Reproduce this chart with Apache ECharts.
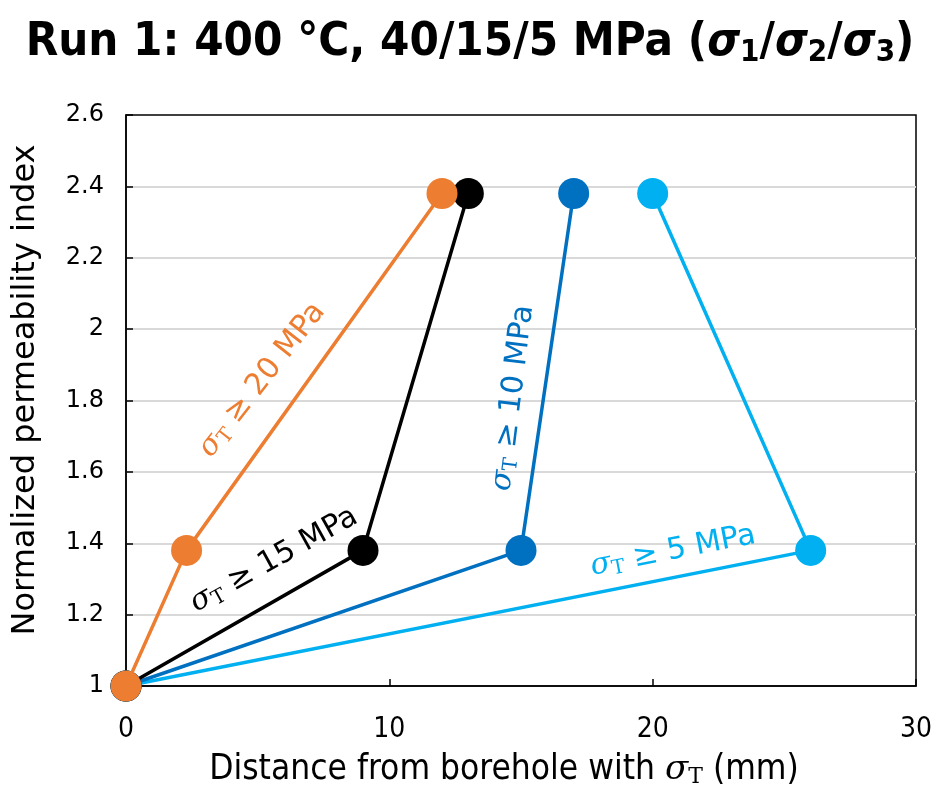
<!DOCTYPE html>
<html><head><meta charset="utf-8">
<script src="https://cdn.jsdelivr.net/npm/echarts@6/dist/echarts.min.js"></script>
<style>html,body{margin:0;padding:0;background:#fff}#c{width:944px;height:791px}</style>
</head><body><div id="c"></div>
<script>
// ---- data ----
const labels = ['σT ≥ 5 MPa', 'σT ≥ 10 MPa', 'σT ≥ 15 MPa', 'σT ≥ 20 MPa'];
const dist5  = [0, 26, 20];
const perm5  = [1, 1.38, 2.38];
const dist10 = [0, 15, 17];
const perm10 = [1, 1.38, 2.38];
const dist15 = [0, 9, 13];
const perm15 = [1, 1.38, 2.38];
const dist20 = [0, 2.3, 12];
const perm20 = [1, 1.38, 2.38];
const xTicks = [0, 10, 20, 30];
const yTicks = [1, 1.2, 1.4, 1.6, 1.8, 2, 2.2, 2.4, 2.6];

function hasFont(name){
  const c = document.createElement('canvas').getContext('2d');
  const s = 'abcdefghijklmnopqrstuvwxyz0123456789';
  c.font = '40px monospace'; const w0 = c.measureText(s).width;
  c.font = "40px '" + name + "', monospace"; const w1 = c.measureText(s).width;
  return w0 !== w1;
}
const WIDE = 'DejaVu Sans';
const NARROW = hasFont('DejaVu Sans Condensed') ? 'DejaVu Sans Condensed' : 'DejaVu Sans';

const colors = ['#00B0F0', '#0070C0', '#000000', '#ED7D31'];
const seriesData = [
  [dist5, perm5], [dist10, perm10], [dist15, perm15], [dist20, perm20]
];

const chart = echarts.init(document.getElementById('c'), null, {renderer: 'canvas'});

function zipPts(xs, ys){ return xs.map((x, i) => [x, ys[i]]); }

function annot(text, color, x, y, deg){
  const m = text.match(/^σT(.*)$/);
  return {
    type: 'text', x: x, y: y, rotation: deg * Math.PI / 180, z: 100,
    style: {
      text: '{s|σ}{t|T}{a|' + m[1] + '}',
      align: 'center', verticalAlign: 'middle',
      rich: {
        s: {fontFamily: 'DejaVu Serif', fontStyle: 'italic', fontSize: 30, fill: color},
        t: {fontFamily: 'DejaVu Serif', fontSize: 20, fill: color, padding: [13, 0, 0, 0]},
        a: {fontFamily: WIDE, fontSize: 30, fill: color}
      }
    }
  };
}

const option = {
  animation: false,
  grid: {left: 126, right: 28, top: 115, bottom: 105, show: true, borderColor: '#000', borderWidth: 1.5, backgroundColor: 'transparent'},
  xAxis: {
    type: 'value', min: xTicks[0], max: xTicks[xTicks.length - 1], interval: 10,
    axisLine: {show: true, lineStyle: {color: '#000', width: 1.5}},
    axisTick: {show: true, inside: true, length: 7, lineStyle: {color: '#000', width: 1.5}},
    axisLabel: {fontFamily: NARROW, fontSize: 28, color: '#000', margin: 30},
    splitLine: {show: false}
  },
  yAxis: {
    type: 'value', min: yTicks[0], max: yTicks[yTicks.length - 1], interval: 0.2,
    axisLine: {show: true, lineStyle: {color: '#000', width: 1.5}},
    axisTick: {show: true, inside: true, length: 7, lineStyle: {color: '#000', width: 1.5}},
    axisLabel: {fontFamily: WIDE, fontSize: 24, color: '#000', margin: 22,
      formatter: v => String(Math.round(v * 10) / 10)},
    splitLine: {show: true, showMinLine: false, showMaxLine: false, lineStyle: {color: '#D9D9D9', width: 2}}
  },
  series: seriesData.map((d, i) => ({
    name: labels[i], type: 'line', data: zipPts(d[0], d[1]),
    symbol: 'circle', symbolSize: 31, clip: false,
    lineStyle: {color: colors[i], width: 3.5},
    itemStyle: {color: colors[i]},
    z: 2 + i
  })),
  graphic: [
    {
      type: 'text', x: 470, y: 43, z: 100,
      style: {
        text: '{a|Run 1: 400 °C, 40/15/5 MPa (}{s|σ}{b|1}{a|/}{s|σ}{b|2}{a|/}{s|σ}{b|3}{a|)}',
        align: 'center', verticalAlign: 'middle',
        rich: {
          a: {fontFamily: NARROW, fontWeight: 'bold', fontSize: 47, fill: '#000'},
          s: {fontFamily: NARROW, fontWeight: 'bold', fontStyle: 'italic', fontSize: 47, fill: '#000'},
          b: {fontFamily: NARROW, fontWeight: 'bold', fontSize: 31, fill: '#000', padding: [20, 0, 0, 0]}
        }
      }
    },
    {
      type: 'text', x: 26, y: 390, rotation: Math.PI / 2, z: 100,
      style: {text: 'Normalized permeability index', align: 'center', verticalAlign: 'middle',
        font: "32px 'DejaVu Sans'", fill: '#000'}
    },
    {
      type: 'text', x: 504, y: 770, z: 100,
      style: {
        text: '{a|Distance from borehole with }{s|σ}{t|T}{a| (mm)}',
        align: 'center', verticalAlign: 'middle',
        rich: {
          a: {fontFamily: NARROW, fontSize: 35, fill: '#000'},
          s: {fontFamily: 'DejaVu Serif', fontStyle: 'italic', fontSize: 34, fill: '#000'},
          t: {fontFamily: 'DejaVu Serif', fontSize: 22, fill: '#000', padding: [14, 0, 0, 0]}
        }
      }
    },
    annot(labels[3], colors[3], 262, 380, 52),
    annot(labels[2], colors[2], 274, 560, 29),
    annot(labels[1], colors[1], 513, 398, 83),
    annot(labels[0], colors[0], 673, 551, 11)
  ]
};
chart.setOption(option);
</script>
</body></html>
